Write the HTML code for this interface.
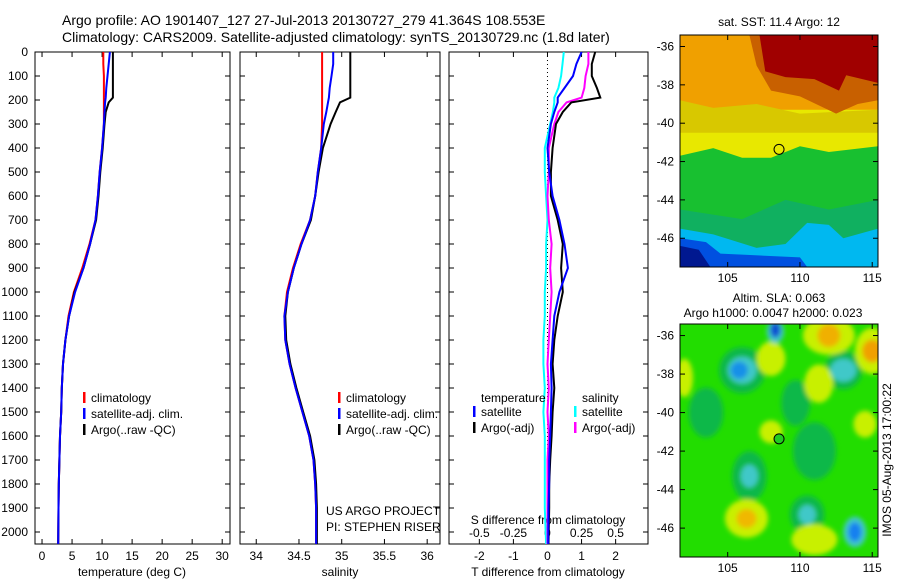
<!DOCTYPE html>
<html><head><meta charset="utf-8"><style>
body{margin:0;background:#fff;}
svg text{font-family:"Liberation Sans",sans-serif;fill:#000;}
</style></head><body>
<svg id="s" width="900" height="580" xmlns="http://www.w3.org/2000/svg">
<defs><filter id="blur2" x="-5%" y="-5%" width="110%" height="110%"><feGaussianBlur stdDeviation="2.5"/></filter></defs>
<text x="62" y="25" font-size="14">Argo profile: AO 1901407_127 27-Jul-2013 20130727_279 41.364S 108.553E</text>
<text x="62" y="42" font-size="14">Climatology: CARS2009. Satellite-adjusted climatology: synTS_20130729.nc (1.8d later)</text>
</svg>
<script>
// ---- profile data ----
const depthT = [0,50,100,150,190,210,250,300,400,500,600,700,800,900,1000,1100,1200,1300,1400,1500,1600,1700,1800,1900,2050];
const tempClim = [10.2,10.2,10.3,10.3,10.3,10.3,10.3,10.3,10.0,9.6,9.3,8.9,7.9,6.7,5.3,4.4,3.9,3.5,3.3,3.2,3.0,2.9,2.8,2.75,2.7];
const tempSat  = [11.3,11.1,10.9,10.7,10.6,10.5,10.4,10.3,10.0,9.6,9.3,8.9,8.0,6.9,5.5,4.5,3.9,3.5,3.3,3.2,3.0,2.9,2.8,2.75,2.7];
const tempArgo = [11.8,11.8,11.8,11.8,11.8,11.1,10.6,10.4,10.1,9.7,9.4,9.0,8.0,6.9,5.4,4.5,3.9,3.5,3.3,3.2,3.0,2.9,2.8,2.75,2.7];
const salClim = [34.77,34.77,34.77,34.77,34.77,34.77,34.77,34.77,34.76,34.72,34.69,34.63,34.52,34.43,34.36,34.33,34.34,34.39,34.46,34.54,34.62,34.67,34.69,34.7,34.7];
const salSat  = [34.9,34.9,34.88,34.86,34.85,34.84,34.82,34.79,34.76,34.72,34.69,34.63,34.53,34.44,34.37,34.33,34.34,34.39,34.46,34.54,34.62,34.67,34.69,34.7,34.7];
const salArgo = [35.1,35.1,35.1,35.1,35.1,34.98,34.93,34.87,34.78,34.73,34.69,34.64,34.53,34.44,34.37,34.34,34.35,34.40,34.47,34.55,34.63,34.68,34.70,34.71,34.71];
const dTsat  = [1.0,0.85,0.75,0.5,0.3,0.3,0.2,0.1,0.0,0.05,0.15,0.35,0.5,0.6,0.35,0.2,0.15,0.1,0.12,0.1,0.08,0.05,0.05,0.03,0.02];
const dTargo = [1.4,1.3,1.3,1.45,1.55,0.7,0.45,0.25,0.15,0.1,0.1,0.3,0.45,0.4,0.45,0.3,0.2,0.15,0.2,0.15,0.12,0.08,0.05,0.05,0.03];
const dSsat  = [0.12,0.11,0.1,0.08,0.05,0.05,0.04,0.02,-0.02,-0.02,-0.01,0.0,-0.01,-0.01,-0.02,-0.02,-0.03,-0.03,-0.02,-0.03,-0.02,-0.02,-0.02,-0.02,-0.01];
const dSargo = [0.3,0.3,0.28,0.27,0.25,0.14,0.08,0.05,0.01,0.01,0.0,0.01,0.03,0.02,0.03,0.02,0.01,0.0,0.01,0.0,0.01,0.0,0.0,0.0,0.0];
const depthTicks = [0,100,200,300,400,500,600,700,800,900,1000,1100,1200,1300,1400,1500,1600,1700,1800,1900,2000];
const tempTicks = [0,5,10,15,20,25,30];
const salTicks = [34,34.5,35,35.5,36];
const dTTicks = [-2,-1,0,1,2];
const dSTicks = [-0.5,-0.25,0,0.25,0.5];
// ---- map data ----
const lonTicks=[105,110,115];
const latTicks=[-36,-38,-40,-42,-44,-46];
const argoLon=108.553, argoLat=-41.364;

const S=document.getElementById('s');const NS='http://www.w3.org/2000/svg';
function mk(t,a,p){const e=document.createElementNS(NS,t);for(const k in a)e.setAttribute(k,a[k]);(p||S).appendChild(e);return e;}
function txt(x,y,s,fs,anchor,p){const e=mk('text',{x:x,y:y,'font-size':fs||12,'text-anchor':anchor||'start'},p);e.textContent=s;return e;}
const top0=52,bot0=544;
const yD=d=>top0+(d/2050)*(bot0-top0);

function panel(name,x0,x1,xmin,xmax){
  const g=mk('g',{});
  
  
  mk('rect',{x:x0,y:top0,width:x1-x0,height:bot0-top0,fill:'#fff',stroke:'#000','stroke-width':1},g);
  depthTicks.forEach(d=>{const y=yD(d);
    mk('line',{x1:x0,x2:x0+5,y1:y,y2:y,stroke:'#000'},g);
    mk('line',{x1:x1-5,x2:x1,y1:y,y2:y,stroke:'#000'},g);});
  return {g:g,x:v=>x0+(v-xmin)/(xmax-xmin)*(x1-x0)};
}
function line(p,vals,col,name,sc){
  const pts=vals.map((v,i)=>p.x(v*(sc||1)).toFixed(1)+','+yD(depthT[i]).toFixed(1)).join(' ');
  const e=mk('polyline',{points:pts,fill:'none',stroke:col,'stroke-width':2},p.g);
  
  
}
function xticks(p,ticks,lab,y,fmt){
  ticks.forEach(t=>{const x=p.x(t);
    mk('line',{x1:x,x2:x,y1:bot0,y2:bot0-5,stroke:'#000'},p.g);
    mk('line',{x1:x,x2:x,y1:top0,y2:top0+5,stroke:'#000'},p.g);
    if(lab) txt(x,y,fmt?fmt(t):String(t),12,'middle',p.g);});
}
// panel 1
const p1=panel('temperature-panel',35,230,-1.17,31.3);
depthTicks.forEach(d=>txt(28,yD(d)+4,String(d),12,'end',p1.g));
xticks(p1,tempTicks,true,560);
txt(132,576,'temperature (deg C)',12,'middle',p1.g);
line(p1,tempClim,'#f00','temp-climatology-line');
line(p1,tempArgo,'#000','temp-argo-line');
line(p1,tempSat,'#00f','temp-satellite-line');
function legend(p,x,y,items){items.forEach((it,i)=>{
  mk('rect',{x:x,y:y+i*16-10,width:2.5,height:11,fill:it[1]},p.g);
  txt(x+8,y+i*16,it[0],12,'start',p.g);});}
legend(p1,83,402,[['climatology','#f00'],['satellite-adj. clim.','#00f'],['Argo(..raw -QC)','#000']]);
// panel 2
const p2=panel('salinity-panel',240,440,33.81,36.15);
xticks(p2,salTicks,true,560);
txt(340,576,'salinity',12,'middle',p2.g);
line(p2,salClim,'#f00','sal-climatology-line');
line(p2,salArgo,'#000','sal-argo-line');
line(p2,salSat,'#00f','sal-satellite-line');
legend(p2,338,402,[['climatology','#f00'],['satellite-adj. clim.','#00f'],['Argo(..raw -QC)','#000']]);
txt(326,515,'US ARGO PROJECT',12,'start',p2.g);
txt(326,531,'PI: STEPHEN RISER',12,'start',p2.g);
// panel 3
const p3=panel('difference-panel',449,648,-2.89,2.95);
mk('line',{x1:p3.x(0),x2:p3.x(0),y1:top0,y2:bot0,stroke:'#000','stroke-dasharray':'1,3'},p3.g);
xticks(p3,dTTicks,true,560);
dSTicks.forEach(t=>txt(p3.x(t*4),537,String(t),12,'middle',p3.g));
txt(548,524,'S difference from climatology',12,'middle',p3.g);
txt(548,576,'T difference from climatology',12,'middle',p3.g);
line(p3,dSsat,'#0ff','s-satellite-diff-line',4);
line(p3,dSargo,'#f0f','s-argo-diff-line',4);
line(p3,dTargo,'#000','t-argo-diff-line');
line(p3,dTsat,'#00f','t-satellite-diff-line');
txt(481,402,'temperature',12,'start',p3.g);
txt(582,402,'salinity',12,'start',p3.g);
legend(p3,473,416,[['satellite','#00f'],['Argo(-adj)','#000']]);
legend(p3,574,416,[['satellite','#0ff'],['Argo(-adj)','#f0f']]);

// maps
function map(name,y0,y1,shapes,bg,mfill,blur){
  const x0=680,x1=878;
  const g=mk('g',{});
  
  
  const X=l=>x0+(l-101.7)/(115.4-101.7)*(x1-x0);
  const Y=a=>y0+(-35.4-a)/(47.5-35.4)*(y1-y0);
  const cid='c'+name;
  const cp=mk('clipPath',{id:cid},g);mk('rect',{x:x0,y:y0,width:x1-x0,height:y1-y0},cp);
  const outer=mk('g',{'clip-path':'url(#'+cid+')'},g);
  mk('rect',{x:x0,y:y0,width:x1-x0,height:y1-y0,fill:bg},outer);
  const inner=mk('g',blur?{filter:'url(#blur2)'}:{},outer);
  shapes.forEach(s=>{
    if(s[0]==='poly') mk('polygon',{points:s[2].map(p=>X(p[0])+','+Y(p[1])).join(' '),fill:s[1]},inner);
    else mk('ellipse',{cx:X(s[2]),cy:Y(s[3]),rx:s[4]*14.4,ry:s[5]*19.2,fill:s[1]},inner);
  });
  mk('rect',{x:x0,y:y0,width:x1-x0,height:y1-y0,fill:'none',stroke:'#000'},g);
  lonTicks.forEach(l=>{mk('line',{x1:X(l),x2:X(l),y1:y1,y2:y1-5,stroke:'#000'},g);mk('line',{x1:X(l),x2:X(l),y1:y0,y2:y0+5,stroke:'#000'},g);txt(X(l),y1+15,String(l),12,'middle',g);});
  latTicks.forEach(a=>{mk('line',{x1:x0,x2:x0+5,y1:Y(a),y2:Y(a),stroke:'#000'},g);mk('line',{x1:x1-5,x2:x1,y1:Y(a),y2:Y(a),stroke:'#000'},g);txt(674,Y(a)+4,String(a),12,'end',g);});
  const m=mk('circle',{cx:X(argoLon),cy:Y(argoLat),r:5,fill:mfill,stroke:'#000'},g);
  
  
}
map('sst-map',35,267,[
 ['poly','#e8e800',[[101.7,-39.3],[115.4,-39.3],[115.4,-47.5],[101.7,-47.5]]],
 ['poly','#d8c800',[[101.7,-38.8],[104,-39.2],[107,-39],[110,-39.5],[115.4,-39.3],[115.4,-40.5],[101.7,-40.5]]],
 ['poly','#18c030',[[101.7,-41.7],[104,-41.3],[106,-41.8],[108,-41.8],[110,-41.2],[112,-41.5],[115.4,-41.2],[115.4,-47.5],[101.7,-47.5]]],
 ['poly','#10b060',[[101.7,-44.5],[106,-45],[109,-44],[112,-44.5],[115.4,-44],[115.4,-47.5],[101.7,-47.5]]],
 ['poly','#00b8f0',[[101.7,-45.5],[104,-45.8],[107,-46.5],[109,-46.3],[110.5,-45.2],[112,-45.3],[113,-46],[115.4,-45.5],[115.4,-47.5],[101.7,-47.5]]],
 ['poly','#0050e0',[[101.7,-46],[103.5,-46.2],[104.5,-46.8],[110,-47],[110.5,-47.5],[101.7,-47.5]]],
 ['poly','#001890',[[101.7,-46.4],[103,-46.6],[103.8,-47.5],[101.7,-47.5]]],
 ['poly','#c86000',[[106.5,-35.4],[107,-37],[108,-38.3],[110,-38.6],[112.5,-39.5],[114,-39],[115.4,-38.8],[115.4,-35.4]]],
 ['poly','#a00000',[[107.2,-35.4],[107.6,-37.3],[109,-37.6],[111,-37.7],[112.7,-38.3],[113.2,-37.5],[115.4,-37.9],[115.4,-35.4]]]
],'#f0a000','none',false);
map('sla-map',324,557,[
 ['ell','#10b848',103.5,-40,1.2,1.3],['ell','#10b848',106.5,-43.3,1.2,1.3],['ell','#10b848',110.5,-45.3,1.2,1.0],['ell','#10b848',109.7,-39.5,1.0,1.2],['ell','#10b848',113,-37.8,1.3,1.0],['ell','#10b848',106,-37.8,1.6,1.2],['ell','#10b848',111,-42,1.5,1.5],
 ['ell','#c8f000',112,-36,1.8,1.0],['ell','#c8f000',115,-36.8,1.2,1.2],['ell','#c8f000',111.3,-38.5,1.0,1.0],['ell','#c8f000',108,-37.2,1.0,0.9],['ell','#c8f000',106.3,-45.5,1.5,1.0],['ell','#c8f000',111,-46.6,1.6,0.8],['ell','#c8f000',108,-41,0.8,0.6],['ell','#c8f000',114.5,-40.6,0.8,0.7],['ell','#c8f000',102,-38.2,0.6,1.0],
 ['ell','#40c8c8',106,-37.8,1.0,0.7],['ell','#40c8c8',113,-37.8,0.9,0.6],['ell','#40c8c8',106.5,-43.3,0.6,0.6],['ell','#40c8c8',110.5,-45.3,0.6,0.5],['ell','#40c8c8',108.3,-35.8,0.6,0.6],['ell','#40c8c8',113.8,-46.2,0.8,0.8],
 ['ell','#1890e8',105.8,-37.8,0.6,0.45],['ell','#1050d0',108.3,-35.7,0.35,0.4],['ell','#1880f0',113.8,-46.2,0.45,0.5],
 ['ell','#f0b000',112,-36,0.8,0.6],['ell','#f0a000',115,-36.8,0.7,0.6],['ell','#f0b800',106.3,-45.5,0.7,0.5]
],'#22dd00','#22cc22',true);
txt(779,26,'sat. SST: 11.4  Argo: 12',12,'middle');
txt(779,302,'Altim. SLA: 0.063',12,'middle');
txt(773,317,'Argo h1000: 0.0047  h2000: 0.023',12,'middle');
const r=txt(0,0,'IMOS 05-Aug-2013 17:00:22',12,'middle');
r.setAttribute('transform','translate(891,460) rotate(-90)');


</script>
</body></html>
